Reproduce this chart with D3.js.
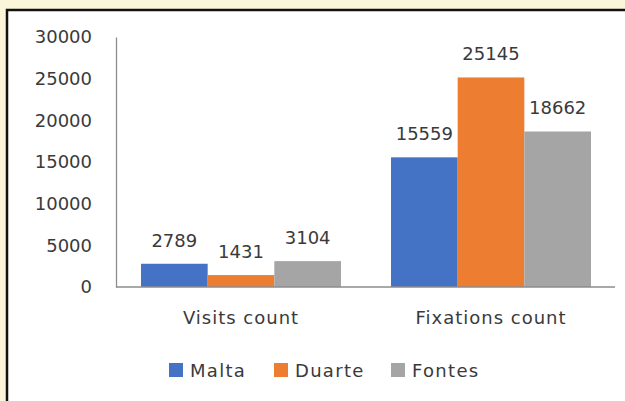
<!DOCTYPE html>
<html>
<head>
<meta charset="utf-8">
<script src="https://cdn.jsdelivr.net/npm/d3@7"></script>
<style>
  body { margin: 0; background: #fbf5da; }
  svg { display: block; }
  text { font-family: "DejaVu Sans", sans-serif; fill: #3a3a3a; }
</style>
</head>
<body>
<svg id="chart" width="625" height="401"></svg>
<script>
// data
const categories = ["Visits count", "Fixations count"];
const seriesNames = ["Malta", "Duarte", "Fontes"];
const malta = [2789, 15559];
const duarte = [1431, 25145];
const fontes = [3104, 18662];
const yTicks = [0, 5000, 10000, 15000, 20000, 25000, 30000];
const colors = ["#4472c4", "#ed7d31", "#a5a5a5"];

const seriesValues = [malta, duarte, fontes];

const svg = d3.select("#chart"),
  width = +svg.attr("width"),
  height = +svg.attr("height");

// white chart box with dark border on top and left
svg.append("rect")
  .attr("x", 7).attr("y", 10)
  .attr("width", width).attr("height", height)
  .attr("fill", "#ffffff")
  .attr("stroke", "#111")
  .attr("stroke-width", 2.5);

const margin = { left: 116, right: 616, top: 37, bottom: 287 };

const x0 = d3.scaleBand()
  .domain(categories)
  .range([margin.left, margin.right])
  .paddingInner(0.2)
  .paddingOuter(0.1);

const x1 = d3.scaleBand()
  .domain(seriesNames)
  .range([0, x0.bandwidth()]);

const y = d3.scaleLinear()
  .domain([0, 30000])
  .range([margin.bottom, margin.top]);

// y axis
const yAxis = d3.axisLeft(y)
  .tickValues(yTicks)
  .tickSize(0)
  .tickPadding(24)
  .tickFormat(d => d);

const yg = svg.append("g")
  .attr("transform", `translate(${margin.left},0)`)
  .call(yAxis);
yg.select(".domain").attr("stroke", "#8c8c8c").attr("stroke-width", 1.3);
yg.selectAll("text").style("font-size", "18px").style("font-family", "DejaVu Sans").attr("fill", "#3a3a3a");

// bars
const rows = categories.map((c, i) => ({
  cat: c,
  vals: seriesNames.map((s, j) => ({ name: s, value: seriesValues[j][i], color: colors[j] }))
}));

const groups = svg.append("g").selectAll("g")
  .data(rows)
  .enter().append("g")
  .attr("transform", d => `translate(${x0(d.cat)},0)`);

groups.selectAll("rect")
  .data(d => d.vals)
  .enter().append("rect")
  .attr("x", d => x1(d.name))
  .attr("y", d => y(d.value))
  .attr("width", x1.bandwidth())
  .attr("height", d => y(0) - y(d.value))
  .attr("fill", d => d.color);

groups.selectAll("text")
  .data(d => d.vals)
  .enter().append("text")
  .attr("x", d => x1(d.name) + x1.bandwidth() / 2)
  .attr("y", d => y(d.value) - 17)
  .attr("text-anchor", "middle")
  .style("font-size", "18px")
  .text(d => d.value);

// x axis baseline
const xAxis = d3.axisBottom(x0).tickSize(0).tickPadding(24);
const xg = svg.append("g")
  .attr("transform", `translate(0,${margin.bottom})`)
  .call(xAxis);
xg.select(".domain").attr("stroke", "#8c8c8c").attr("stroke-width", 1.3).attr("d", `M${margin.left},0H${margin.right - 1}`);
xg.selectAll("text").style("font-size", "18px").style("font-family", "DejaVu Sans")
  .style("letter-spacing", "1px").attr("fill", "#3a3a3a");

// legend
const legendX = [169, 274, 391];
const legend = svg.append("g").selectAll("g")
  .data(seriesNames)
  .enter().append("g")
  .attr("transform", (d, i) => `translate(${legendX[i]},363)`);

legend.append("rect")
  .attr("width", 14).attr("height", 14)
  .attr("fill", (d, i) => colors[i]);

legend.append("text")
  .attr("x", 21).attr("y", 14)
  .style("font-size", "18px")
  .style("letter-spacing", "1.3px")
  .text(d => d);
</script>
</body>
</html>
